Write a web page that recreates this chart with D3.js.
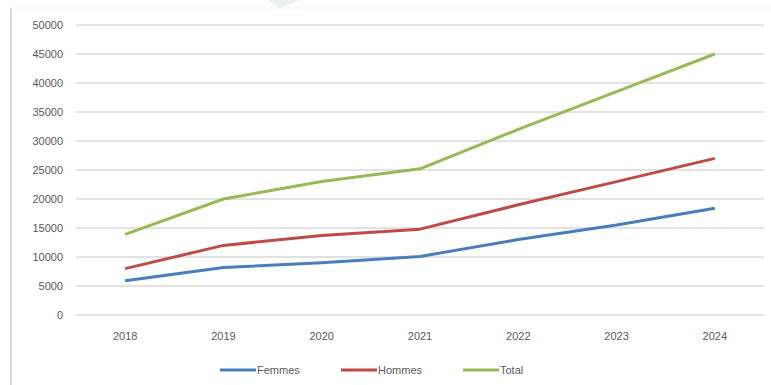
<!DOCTYPE html>
<html>
<head>
<meta charset="utf-8">
<script src="https://cdn.jsdelivr.net/npm/d3@7"></script>
<style>
  body { margin: 0; background: #fff; }
  text { font-family: "Liberation Sans", Arial, sans-serif; fill: #595959; }
</style>
</head>
<body>
<div id="chart"></div>
<script>
// data
const years = ["2018", "2019", "2020", "2021", "2022", "2023", "2024"];
const femmes = [5900, 8200, 9000, 10100, 13000, 15500, 18400];
const hommes = [8000, 12000, 13700, 14800, 19000, 23000, 27000];
const total = [13900, 20000, 23000, 25200, 32000, 38500, 45000];
const yTicks = [0, 5000, 10000, 15000, 20000, 25000, 30000, 35000, 40000, 45000, 50000];

const seriesNames = ["Femmes", "Hommes", "Total"];
const seriesValues = [femmes, hommes, total];
const colors = ["#4a7ebb", "#be4b48", "#98b954"];

const width = 771, height = 385;
const margin = { top: 25, right: 7, bottom: 70, left: 76 };

const svg = d3.select("#chart").append("svg")
  .attr("width", width)
  .attr("height", height);

// frame bits
svg.append("line")
  .attr("x1", 11).attr("x2", 11).attr("y1", 8).attr("y2", height)
  .attr("stroke", "#d9d9d9").attr("stroke-width", 2);
svg.append("line")
  .attr("x1", 11).attr("x2", width).attr("y1", 8).attr("y2", 8)
  .attr("stroke", "#f0f0f0").attr("stroke-width", 1);
svg.append("path")
  .attr("d", "M268,0 L300,0 L280,8 Z")
  .attr("fill", "#e6f3f1");

const xScale = d3.scaleBand()
  .domain(years)
  .range([margin.left, width - margin.right]);

const yScale = d3.scaleLinear()
  .domain([0, 50000])
  .range([height - margin.bottom, margin.top]);

// grid
svg.append("g")
  .selectAll("line")
  .data(yTicks)
  .join("line")
  .attr("x1", margin.left)
  .attr("x2", width - margin.right)
  .attr("y1", d => yScale(d))
  .attr("y2", d => yScale(d))
  .attr("stroke", "#d9d9d9")
  .attr("stroke-width", 1.5);

// y axis
const yAxis = d3.axisLeft(yScale).tickValues(yTicks).tickFormat(d3.format("d")).tickSize(0).tickPadding(13);
svg.append("g")
  .attr("transform", `translate(${margin.left},0)`)
  .call(yAxis)
  .call(g => g.select(".domain").remove())
  .selectAll("text")
  .attr("font-size", 11)
  .style("fill", "#595959");

// x axis
const xAxis = d3.axisBottom(xScale).tickSize(0).tickPadding(17);
svg.append("g")
  .attr("transform", `translate(0,${height - margin.bottom})`)
  .call(xAxis)
  .call(g => g.select(".domain").remove())
  .selectAll("text")
  .attr("font-size", 11)
  .style("fill", "#595959");

// lines
const line = d3.line()
  .x((d, i) => xScale(years[i]) + xScale.bandwidth() / 2)
  .y(d => yScale(d));

svg.append("g")
  .selectAll("path")
  .data(seriesValues)
  .join("path")
  .attr("d", d => line(d))
  .attr("fill", "none")
  .attr("stroke", (d, i) => colors[i])
  .attr("stroke-width", 3)
  .attr("stroke-linejoin", "round");

// legend
const legendX = [220, 341, 463];
const legend = svg.append("g")
  .selectAll("g")
  .data(seriesNames)
  .join("g")
  .attr("transform", (d, i) => `translate(${legendX[i]},370)`);

legend.append("line")
  .attr("x1", 0).attr("x2", 36)
  .attr("stroke", (d, i) => colors[i])
  .attr("stroke-width", 3);

legend.append("text")
  .attr("x", 37)
  .attr("dy", "0.35em")
  .attr("font-size", 11)
  .text(d => d);
</script>
</body>
</html>
